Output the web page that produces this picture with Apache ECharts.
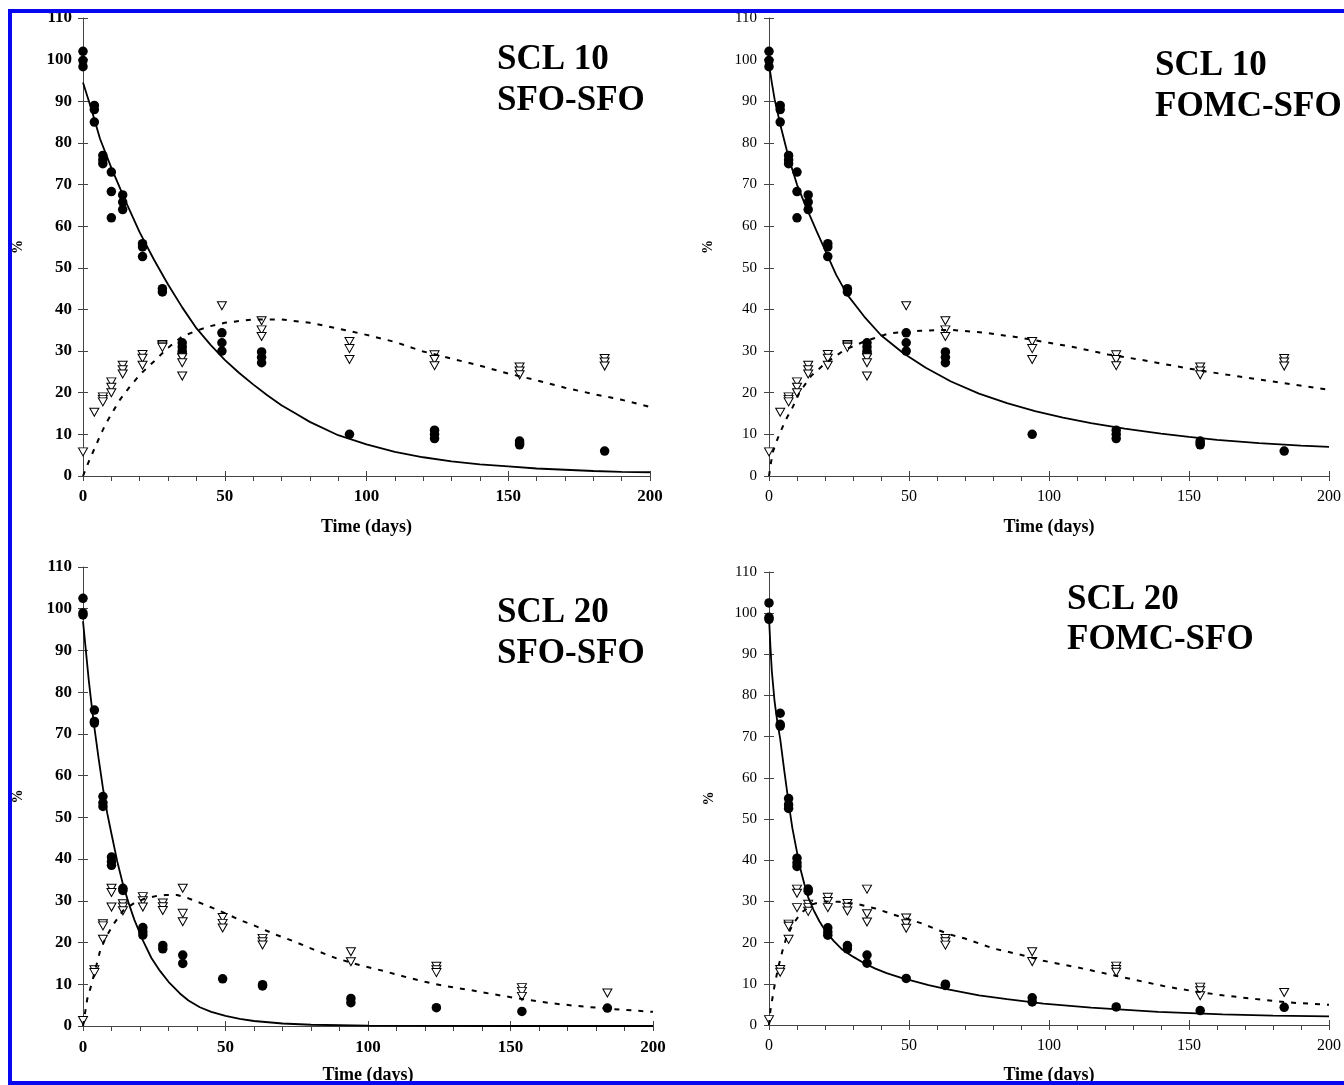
<!DOCTYPE html>
<html><head><meta charset="utf-8">
<script src="https://cdn.jsdelivr.net/npm/echarts@6/dist/echarts.min.js"></script>
<style>html,body{margin:0;padding:0;background:#fff}#c{width:1344px;height:1085px}</style>
</head><body><div id="c"></div><script>
// ---- data ----
const times = [0, 4, 7, 10, 14, 21, 28, 35, 49, 63, 94, 124, 154, 184];
const xTicks = [0, 50, 100, 150, 200];
const yTicks = [0, 10, 20, 30, 40, 50, 60, 70, 80, 90, 100, 110];
const xAxisTitle = 'Time (days)';
const yAxisTitle = '%';

const scl10Parent = [[102,99.8,98.3],[89,88,85],[77,75.9,75],[73,68.3,62],[67.5,65.8,64],[55.8,55,52.7],[45,44.2],[32,31,30,29.5],[34.4,32,30],[29.8,28.5,27.2],[10],[11,10,9],[8.4,7.9,7.5],[6]];
const scl10Metab = [[5.8],[15.3],[19,18.4,17.8],[22.6,21.3,20],[26.6,25.5,24.5],[29.2,28.3,26.6],[31.6,31.2,30.9],[28.4,27.2,24],[40.9],[37.3,35.1,33.5],[32.3,30.6,28],[29.1,28,26.5],[26.2,25.2,24.3],[28.2,27.4,26.4]];
const scl20Parent = [[102.5,99,98.5],[75.7,73,72.6],[55,53.5,52.6],[40.5,39.4,38.5],[33,32.5],[23.6,22.6,21.8],[19.3,18.5],[17,15],[11.3],[9.9,9.6],[6.6,5.6],[4.4],[3.5],[4.3]];
const scl20Metab = [[1.3],[13.5,12.8],[24.5,24,20.8],[33,32,28.5],[29.3,28.5,27.6],[31,30,28.5],[29.5,28.6,27.7],[33,27,25],[26,24.6,23.5],[21,20.2,19.4],[17.8,15.4],[14.3,13.5,12.8],[9.2,8.3,7.1],[7.9]];

const fit10SfoParent = [[0,94.5],[3,88],[6,81],[10,74],[15,66],[20,58.5],[25,52],[30,46],[35,40.5],[40,35.5],[45,31.5],[50,27.9],[55,24.8],[60,22],[65,19.4],[70,17],[75,15],[80,13],[90,9.8],[100,7.6],[110,5.8],[120,4.5],[130,3.5],[140,2.8],[150,2.3],[160,1.8],[170,1.5],[180,1.2],[190,1.0],[200,0.9]];
const fit10SfoMetab = [[0,0],[2,3.4],[4,6.5],[6,9.6],[8,12.5],[11,16],[13,18.3],[16,21],[20,24.3],[25,27.5],[30,30.8],[35,33.5],[40,34.9],[45,36],[50,36.8],[60,37.6],[70,37.6],[80,36.8],[90,35.4],[100,33.9],[110,32.2],[120,29.9],[130,28.2],[140,26.5],[150,24.6],[160,23],[170,21.2],[180,19.7],[190,18.3],[200,16.6]];
const fit10FomcParent = [[0,99],[1,94.5],[2,90.5],[4,84.5],[7,76.5],[10,70],[13,65],[17,58.8],[21,52.8],[24,48.3],[28,43.5],[34,38.3],[40,33.8],[48,29.5],[56,26],[65,22.7],[75,19.8],[85,17.5],[95,15.6],[105,14],[115,12.7],[127,11.4],[140,10.2],[150,9.4],[160,8.7],[175,7.9],[190,7.3],[200,7.0]];
const fit10FomcMetab = [[0,0],[0.7,3.2],[1.5,6],[2.8,8.5],[4,10.5],[6,13.5],[8.5,16.6],[11,20.2],[15,24],[20,27],[27,30.3],[34,32.3],[43,34.3],[54,34.9],[65,35.1],[77,34.4],[88,33.4],[100,32],[110,30.8],[121,29.2],[133,27.9],[145,26.4],[156,25.1],[168,23.9],[180,22.7],[191,21.6],[200,20.7]];
const fit20SfoParent = [[0,97],[1,90],[2,83],[3,77],[4,71.5],[5.5,64],[7,57],[8.5,51],[10,46],[12,39.5],[14,34],[16,29.5],[18,25.5],[21,20.5],[24,16.3],[27,13.2],[30,10.6],[34,7.8],[37,6.1],[41,4.5],[45,3.4],[50,2.4],[55,1.7],[60,1.2],[70,0.6],[80,0.3],[100,0.1],[150,0],[200,0]];
const fit20SfoMetab = [[0,0],[1.5,6.5],[3,10],[4.5,14],[6,18],[8,21.2],[10.5,24.2],[14,27.6],[18,29.5],[22,30.6],[26,31.2],[29,31.4],[33,31.4],[37,30.6],[43,29],[50,27],[55,25.4],[60,24.1],[68,21.8],[74,20.3],[81,18.3],[89,16.2],[97,14.6],[106,13.1],[114,11.6],[120,10.6],[126,9.7],[136,8.6],[144,7.6],[151,6.8],[159,6.0],[165,5.4],[172,4.9],[180,4.4],[189,3.9],[200,3.4]];
const fit20FomcParent = [[0,99],[0.5,92],[1,86],[2,78.5],[3,73.5],[4,69.5],[5.5,61.5],[7,54],[8.3,48],[9.7,43],[11,38.5],[12.6,34.3],[14,31],[16,27.8],[18,25.2],[20,23],[23,20.5],[26,18.4],[30,16.6],[34,15],[38,13.7],[42,12.6],[47,11.5],[52,10.6],[57,9.7],[63,8.8],[69,8],[75,7.2],[85,6.3],[98,5.2],[115,4.2],[139,3.2],[162,2.6],[180,2.3],[200,2.1]];
const fit20FomcMetab = [[0,0],[0.5,3.5],[1.3,6.8],[2.1,10],[3.3,14],[4.8,18],[6.2,21.2],[8.5,24.4],[11.4,27.2],[15.5,29.3],[19,30],[25,29.9],[32,29.3],[38,28.3],[44.5,26.8],[54,24.8],[64,22.1],[70,21],[80,18.6],[89,17.2],[98,15.6],[110,14],[121,12.4],[131,10.9],[142,9.3],[150,8.4],[162,7.2],[174,6.3],[185,5.5],[200,4.9]];

const titles = [['SCL 10','SFO-SFO'],['SCL 10','FOMC-SFO'],['SCL 20','SFO-SFO'],['SCL 20','FOMC-SFO']];

// ---- layout ----
const FONT = '"Liberation Serif", "Times New Roman", serif';
const panels = [
  {grid:{left:83,top:18,width:567,height:458}, bold:true, yFs:17, xFs:17, yMargin:11, xMargin:12, yGap:58, xGap:42, parent:scl10Parent, metab:scl10Metab, pFit:fit10SfoParent, mFit:fit10SfoMetab, title:titles[0], tx:497, ty:[60,101]},
  {grid:{left:769,top:18,width:573,height:458}, bold:false, yFs:15, xFs:16, yMargin:12, xMargin:13, yGap:54, xGap:42, parent:scl10Parent, metab:scl10Metab, pFit:fit10FomcParent, mFit:fit10FomcMetab, title:titles[1], tx:1155, ty:[66,107]},
  {grid:{left:83,top:567,width:570,height:461}, bold:true, yFs:17, xFs:17, yMargin:11, xMargin:13, yGap:58, xGap:40, parent:scl20Parent, metab:scl20Metab, pFit:fit20SfoParent, mFit:fit20SfoMetab, title:titles[2], tx:497, ty:[613,654]},
  {grid:{left:769,top:572,width:573,height:456}, bold:false, yFs:15, xFs:16, yMargin:12, xMargin:13, yGap:53, xGap:41, parent:scl20Parent, metab:scl20Metab, pFit:fit20FomcParent, mFit:fit20FomcMetab, title:titles[3], tx:1067, ty:[600,640]}
];

function pairs(reps){ const out=[]; reps.forEach((r,i)=>r.forEach(v=>out.push([times[i],v]))); return out; }

const AX = '#444';
const xMin = xTicks[0], xMax = xTicks[xTicks.length-1], xInt = xTicks[1]-xTicks[0];
const yMin = yTicks[0], yMax = yTicks[yTicks.length-1], yInt = yTicks[1]-yTicks[0];

const grid=[], xAxis=[], yAxis=[], series=[], graphic=[];
panels.forEach((p,i)=>{
  grid.push(Object.assign({containLabel:false}, p.grid));
  const w = p.bold ? 'bold' : 'normal';
  xAxis.push({gridIndex:i, type:'value', min:xMin, max:xMax, interval:xInt, position:'bottom',
    axisLine:{show:true, onZero:false, lineStyle:{color:AX, width:1}},
    axisTick:{show:true, length:5, lineStyle:{color:AX}},
    minorTick:{show:true, splitNumber:5, length:5, lineStyle:{color:AX}},
    splitLine:{show:false},
    axisLabel:{show:true, margin:p.xMargin, color:'#000', fontFamily:FONT, fontSize:p.xFs, fontWeight:w},
    name:xAxisTitle, nameLocation:'middle', nameGap:p.xGap,
    nameTextStyle:{color:'#000', fontFamily:FONT, fontSize:18, fontWeight:'bold'}});
  yAxis.push({gridIndex:i, type:'value', min:yMin, max:yMax, interval:yInt, position:'left',
    axisLine:{show:true, onZero:false, lineStyle:{color:AX, width:1}},
    axisTick:{show:true, length:5, lineStyle:{color:AX}},
    splitLine:{show:false},
    axisLabel:{show:true, margin:p.yMargin, color:'#000', fontFamily:FONT, fontSize:p.yFs, fontWeight:w},
    name:yAxisTitle, nameLocation:'middle', nameRotate:90, nameGap:p.yGap,
    nameTextStyle:{color:'#000', fontFamily:FONT, fontSize:14, fontWeight:'bold'}});
});
// overlay axes giving the inner half of the crossing major ticks
panels.forEach((p,i)=>{
  xAxis.push({gridIndex:i, type:'value', min:xMin, max:xMax, interval:xInt, position:'bottom',
    axisLine:{show:false}, axisLabel:{show:false}, splitLine:{show:false},
    axisTick:{show:true, inside:true, length:5, lineStyle:{color:AX}}});
  yAxis.push({gridIndex:i, type:'value', min:yMin, max:yMax, interval:yInt, position:'left',
    axisLine:{show:false}, axisLabel:{show:false}, splitLine:{show:false},
    axisTick:{show:true, inside:true, length:5, lineStyle:{color:AX}}});
});

panels.forEach((p,i)=>{
  series.push({type:'scatter', xAxisIndex:i, yAxisIndex:i, data:pairs(p.parent), symbol:'circle', symbolSize:9.5,
    itemStyle:{color:'#000', opacity:1}, z:2, silent:true});
  series.push({type:'scatter', xAxisIndex:i, yAxisIndex:i, data:pairs(p.metab), symbol:'triangle', symbolRotate:180, symbolSize:[9,8],
    itemStyle:{color:'#fff', borderColor:'#000', borderWidth:1, opacity:1}, z:3, silent:true});
  series.push({type:'line', xAxisIndex:i, yAxisIndex:i, data:p.pFit, showSymbol:false, symbol:'none', smooth:false,
    lineStyle:{color:'#000', width:1.8, type:'solid'}, z:4, silent:true});
  series.push({type:'line', xAxisIndex:i, yAxisIndex:i, data:p.mFit, showSymbol:false, symbol:'none', smooth:false,
    lineStyle:{color:'#000', width:2, type:[5,7]}, z:4, silent:true});
  p.title.forEach((t,k)=>{
    graphic.push({type:'text', z:50, style:{text:t, x:p.tx, y:p.ty[k], fill:'#000', fontFamily:FONT, fontSize:35, fontWeight:'bold', align:'left', verticalAlign:'middle'}});
  });
});
// blue frame
const BLUE = '#0808f0';
graphic.push({type:'rect', z:100, shape:{x:8, y:9, width:1336, height:4}, style:{fill:BLUE}});
graphic.push({type:'rect', z:100, shape:{x:8, y:9, width:4, height:1076}, style:{fill:BLUE}});
graphic.push({type:'rect', z:100, shape:{x:8, y:1081, width:1336, height:4}, style:{fill:BLUE}});

const chart = echarts.init(document.getElementById('c'), null, {renderer:'canvas'});
chart.setOption({animation:false, backgroundColor:'#fff', grid, xAxis, yAxis, series, graphic});
</script></body></html>
